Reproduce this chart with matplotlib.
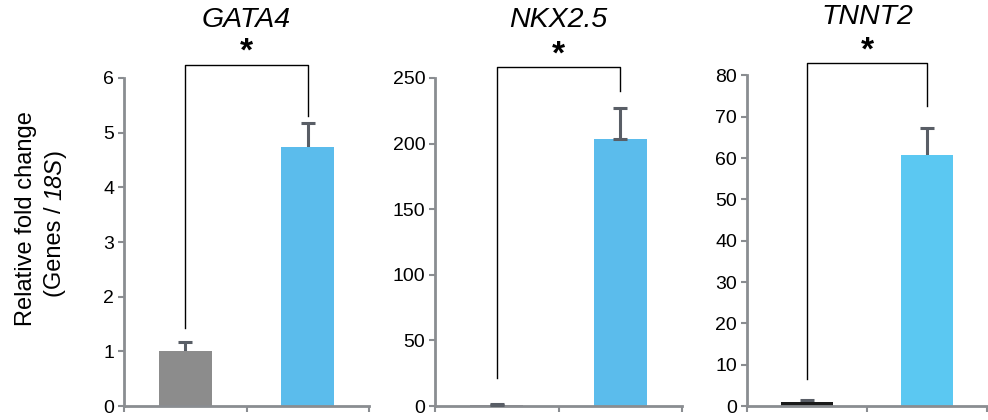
import numpy as np
import matplotlib.pyplot as plt
from matplotlib.transforms import offset_copy

plt.rcParams['font.family'] = ['Liberation Sans', 'DejaVu Sans']

# data
genes = ['GATA4', 'NKX2.5', 'TNNT2']
groups = ['control', 'treated']
values = {'GATA4': [1.0, 4.73], 'NKX2.5': [1.0, 203.3], 'TNNT2': [1.0, 60.7]}
err_up = {'GATA4': [0.18, 0.44], 'NKX2.5': [0.6, 23.6], 'TNNT2': [0.45, 6.6]}
err_lo = {'GATA4': [0.18, 0.44], 'NKX2.5': [0.0, 0.0], 'TNNT2': [0.45, 6.6]}
y_max = {'GATA4': 6, 'NKX2.5': 250, 'TNNT2': 80}
y_step = {'GATA4': 1, 'NKX2.5': 50, 'TNNT2': 10}
# bracket: top height and where each leg stops
bracket_top = {'GATA4': 6.24, 'NKX2.5': 258, 'TNNT2': 83.0}
bracket_leg = {'GATA4': [1.42, 5.3], 'NKX2.5': [21, 240], 'TNNT2': [6.5, 72.5]}

bar_colors = {'GATA4': ['#8c8c8c', '#5bbcec'], 'NKX2.5': ['#8c8c8c', '#5bbcec'],
              'TNNT2': ['#1a1a1a', '#5bc8f2']}
axis_col = '#8a8d91'
err_col = '#595e66'

fig = plt.figure(figsize=(9.88, 4.2), dpi=100)
rects = [[0.1255, 0.0333, 0.248, 0.781],
         [0.4403, 0.0333, 0.250, 0.781],
         [0.756, 0.0333, 0.243, 0.787]]

x = np.arange(len(groups))
for gene, r in zip(genes, rects):
    ax = fig.add_axes(r)
    vals = values[gene]
    ax.bar(x, vals, width=0.43, color=bar_colors[gene], zorder=2)
    # error bars - lower half sits behind the bar
    z = 3 if gene == 'NKX2.5' else 1
    ax.errorbar(x, vals, yerr=[err_lo[gene], err_up[gene]], fmt='none',
                ecolor=err_col, elinewidth=2.2, capsize=5, capthick=2.2, zorder=z)
    ax.set_xlim(-0.5, 1.5)
    ax.set_ylim(0, y_max[gene])
    ax.set_yticks(np.arange(0, y_max[gene] + 1, y_step[gene]))
    ax.set_xticks([-0.5, 0.5, 1.5])
    ax.set_xticklabels([])
    for s in ['top', 'right']:
        ax.spines[s].set_visible(False)
    for s in ['left', 'bottom']:
        ax.spines[s].set_color(axis_col)
        ax.spines[s].set_linewidth(2)
    ax.tick_params(axis='both', colors=axis_col, width=1.5, length=4, direction='out')
    ax.tick_params(axis='y', labelcolor='black', labelsize=14, pad=3)

    # significance bracket
    t = bracket_top[gene]
    l0, l1 = bracket_leg[gene]
    ax.plot([x[0], x[0], x[1], x[1]], [l0, t, t, l1], color='black', lw=1,
            clip_on=False, zorder=4)
    ax.annotate('*', xy=(0.5, t), xytext=(0, 9), textcoords='offset points',
                ha='center', va='center', fontsize=24, fontweight='bold',
                annotation_clip=False)
    ax.annotate(gene, xy=(0.5, 1), xycoords='axes fraction', xytext=(0, 42),
                textcoords='offset points', ha='center', va='center',
                fontsize=20.5, fontstyle='italic', annotation_clip=False)

fig.text(0.026, 0.479, 'Relative fold change', rotation=90, ha='center', va='center',
         fontsize=17)

# second label line, with 18S in italics, built bottom-up
fig.canvas.draw()
renderer = fig.canvas.get_renderer()
pieces = [('(Genes / ', 'normal'), ('18S', 'italic'), (')', 'normal')]
tr = fig.transFigure
y0 = 297  # px from the top of the figure where the line starts
shift = 0.0
for txt, style in pieces:
    t_obj = fig.text(0.056, 1 - y0 / 420, txt, rotation=90, ha='left', va='center',
                     fontsize=17, fontstyle=style, rotation_mode='anchor',
                     transform=offset_copy(tr, fig=fig, x=0, y=shift, units='dots'))
    ext = t_obj.get_window_extent(renderer)
    shift += ext.height

fig.savefig('out.png', dpi=100)
